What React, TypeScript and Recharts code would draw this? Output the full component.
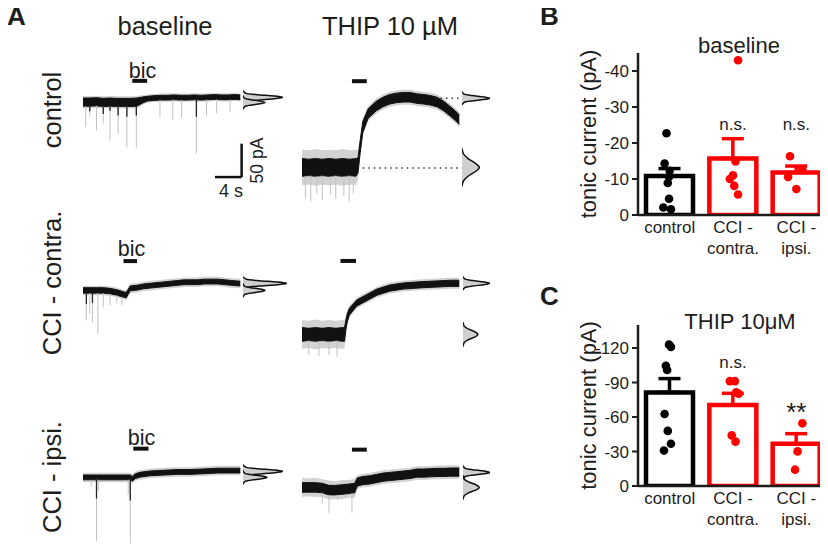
import React from 'react';
import { ComposedChart, Area, Bar, Scatter, XAxis, YAxis, ReferenceLine, ErrorBar } from 'recharts';

const FONT = '"Liberation Sans", Arial, Helvetica, sans-serif';
const INK = '#1d1d1b';
const RED = '#ff0000';

// ---------- panel A: example recordings ----------
// rows: [time (s), mean current (pA, rel. to start), dense noise half-width, faint noise half-width]
const baseControl = [
  [0, -2.5, 6, 9], [1, -2.5, 6, 9], [2, -2, 6, 9], [3, -3, 6, 9], [4, -2.5, 6, 9], [5, -3, 6, 9],
  [6, -3, 6, 9], [7, -3, 6, 9], [8, -2.5, 6, 9], [8.8, 0.5, 4.5, 7], [9.5, 2.5, 3.5, 6], [10.5, 3.5, 3.5, 6],
  [11.5, 4, 3.5, 6], [12.5, 4, 3.5, 6], [13.5, 4.5, 3.5, 6], [14.5, 4, 3.5, 6], [15.5, 4, 3.5, 6],
  [16.5, 4.5, 3.5, 6], [17.5, 4, 3.5, 6], [18.5, 4.5, 3.5, 6], [19.5, 5, 3.5, 6], [20.5, 4.5, 3.5, 6],
  [21.5, 4.5, 3.5, 6], [22.5, 5, 3.5, 6], [23.3, 4.5, 3.5, 6],
];
const thipControl = [
  [0, 0, 13, 26], [1, 0, 12, 25], [2, 0, 13, 27], [3, 0, 12, 25], [4, 0, 13, 26], [5, 0, 12, 25],
  [6, 0, 13, 27], [7, 0, 12, 25], [8, 0, 13, 26], [8.3, 3, 11, 22], [8.6, 29, 9, 16], [9, 59, 8, 13],
  [9.8, 79, 7, 11], [11, 90, 7, 11], [12, 96, 7, 11], [13, 100, 7, 11], [14, 102, 7, 11], [15, 103, 7, 11],
  [16, 103, 7, 11], [17, 101, 7, 11], [18, 100, 7, 11], [19, 98.5, 7, 11], [20, 96, 7, 11], [21, 90, 7, 11],
  [22, 82, 7, 11], [22.7, 76, 7, 11], [23.3, 70, 7, 11],
];
const baseContra = [
  [0, 0, 4, 7], [1, 0, 4, 7], [2, 0, 4, 7], [3, 0, 4, 7], [4, -1, 4, 7], [5, -3, 4, 7], [6, -6, 4, 7],
  [6.4, -7, 4, 7], [7, 3, 3.5, 7], [8, 4, 3.5, 7], [9, 6, 3.5, 7], [10, 7, 3.5, 7], [11, 8, 3.5, 7],
  [12, 9, 3.5, 7], [13, 10, 3.5, 7], [14, 11, 3.5, 7], [15, 12, 3.5, 7], [16, 12, 3.5, 7], [17, 12, 3.5, 7],
  [18, 13, 3.5, 7], [19, 13, 3.5, 7], [20, 13, 3.5, 7], [21, 12, 3.5, 7], [22, 11, 3.5, 7], [23.3, 10, 3.5, 7],
];
const thipContra = [
  [0, 0, 10, 21], [1, 0, 9, 20], [2, 0, 10, 22], [3, 0, 9, 20], [4, 0, 10, 21], [5, 0, 9, 20],
  [6, 0, 10, 21], [6.3, 0, 10, 21], [6.5, 14, 7, 13], [6.7, 24, 6, 11], [7, 33, 5, 9], [8.1, 46, 4.5, 8],
  [9.6, 54, 4.5, 8], [11.1, 62, 4.5, 8], [13, 68, 4.5, 8], [15, 71, 4.5, 8], [17.9, 73, 4.5, 8],
  [20, 74, 4.5, 8], [22, 75, 4.5, 8], [23.3, 75, 4.5, 8],
];
const baseIpsi = [
  [0, 0, 3.5, 7], [1, 0, 3.5, 7], [2, 0, 3.5, 7], [3, 0, 3.5, 7], [4, 0, 3.5, 7], [5, 0, 3.5, 7],
  [6, 0, 3.5, 7], [7, 0, 3.5, 7], [7.3, -2, 3.5, 7], [7.8, 2, 3.5, 7], [8.5, 4, 3.5, 7], [10, 6, 3.5, 7],
  [12, 7, 3.5, 7], [14, 8, 3.5, 7], [16, 8, 3.5, 7], [18, 9, 3.5, 7], [20, 10, 3.5, 7], [22, 10, 3.5, 7],
  [23.3, 10, 3.5, 7],
];
const thipIpsi = [
  [0, 0, 7, 14], [1, 0, 7, 13], [2, 0, 7, 14], [3, -1, 7, 13], [4, -4, 7, 14], [5, -4, 7, 13],
  [6, -3, 7, 14], [7, -2, 7, 13], [7.8, -1, 7, 14], [8.2, 8, 6, 10], [9, 10, 6, 10], [10, 11, 6, 10],
  [11, 13, 6, 10], [12, 15, 6, 10], [13, 16, 6, 10], [14, 17, 6, 10], [15, 18, 6, 10], [16, 19, 6, 10],
  [17, 21, 6, 10], [18, 21, 6, 10], [19, 21.5, 6, 10], [20, 22, 6, 10], [21, 22, 6, 10], [22, 22.5, 6, 10],
  [23.3, 22.5, 6, 10],
];

// spontaneous events: [time (s), peak (pA), 1 = dense part]
const baseControlEvents = [
  [0.4, -39], [1.0, -22], [2.0, -44], [3.0, -34], [4.0, -59], [5.2, -49], [6.5, -69], [7.9, -69],
  [11.4, -25], [13.3, -29], [14.6, -25], [16.8, -78], [18.3, -22], [19.8, -19], [21.8, -17],
  [1.0, -16, 1], [3.0, -20, 1], [4.0, -15, 1], [5.2, -22, 1], [6.5, -24, 1], [7.9, -22, 1], [16.8, -24, 1],
];
const thipControlEvents = [
  [0.5, -45], [1.3, -50], [2.2, -38], [3.0, -48], [4.2, -40], [5.0, -46], [6.2, -42], [7.0, -50], [7.6, -38],
];
const baseContraEvents = [
  [0.5, -44], [1.0, -34], [1.4, -47], [2.2, -63], [3.0, -25], [4.0, -22], [5.0, -19], [5.8, -22],
  [0.5, -20, 1], [1.4, -18, 1],
];
const thipContraEvents = [[1.0, -30], [2.5, -32], [4.0, -30], [5.2, -33]];
const baseIpsiEvents = [
  [1.2, -14], [2.0, -93], [2.3, -20], [6.7, -25], [7.0, -97], [2.0, -31, 1], [7.0, -34, 1],
];
const thipIpsiEvents = [[3.0, -24], [4.0, -38], [5.3, -19], [7.4, -37]];

// drug application bars: [start s, end s, level pA]
const bicControl = [7.3, 9.5, 28.7];
const thipBarControl = [7.4, 9.6, 126.5];
const bicContra = [6.0, 8.0, 43];
const thipBarContra = [5.7, 8.0, 107.8];
const bicIpsi = [7.45, 9.7, 42.2];
const thipBarIpsi = [7.4, 9.6, 55.4];

// all-points histograms: [centre pA, relative height, profile]
const histBaseControl = [[4.4, 1, 'n'], [-3, 0.55, 'n']];
const histThipControl = [[101.5, 1, 'n'], [0, 0.62, 'w']];
const histBaseContra = [[10.3, 1, 'n'], [0, 0.5, 'n']];
const histThipContra = [[75, 1, 'n'], [0, 0.55, 'm']];
const histBaseIpsi = [[8.8, 1, 'n'], [0, 0.6, 'n']];
const histThipIpsi = [[22, 1, 'n'], [0, 0.6, 'm']];

const PROFILE_OFFSETS: Record<string, number[]> = {
  n: [-10, -6, -4, -2, 0, 2, 4, 6, 10],
  m: [-18, -12, -8, -4, 0, 4, 8, 12, 18],
  w: [-28, -20, -13, -6, 0, 6, 13, 20, 28],
};
const PROFILE_COUNTS = [0, 0.08, 0.35, 0.78, 1, 0.78, 0.35, 0.08, 0];

// ---------- panels B and C: tonic current ----------
const GROUPS = ['control', 'CCI -|contra.', 'CCI -|ipsi.'];

const baseMeans = [-10.8, -15.7, -11.8];
const baseSems = [2.1, 5.5, 1.8];
const baseCells = [
  [-22.7, -14.3, -12.3, -10.6, -8.9, -4.5, -2.1, -1.6],
  [-43, -14.9, -11.0, -10.0, -8.1, -5.7],
  [-16.3, -12.7, -10.6, -7.2],
];
const baseJitter = [
  [-0.05, -0.08, 0, -0.01, -0.03, -0.01, -0.1, 0.02],
  [0.08, 0.04, 0, -0.05, 0.02, 0.08],
  [-0.1, 0.095, -0.13, 0],
];
const baseNotes = ['', 'n.s.', 'n.s.'];

const thipMeans = [-81.4, -70.4, -36.7];
const thipSems = [12, 10.2, 8.8];
const thipCells = [
  [-122.9, -121, -104.6, -100.9, -62.6, -47.9, -36.7, -30.8],
  [-91.2, -91.2, -81.4, -80.2, -44, -38.6],
  [-54.5, -30.1, -14.2],
];
const thipJitter = [
  [-0.01, 0.02, -0.06, -0.04, -0.08, -0.03, 0.02, -0.09],
  [-0.05, 0.03, 0.05, 0.09, -0.02, 0.04],
  [0.095, 0.02, -0.02],
];
const thipNotes = ['', 'n.s.', '**'];

// trace geometry: 6.75 px per s, 0.68 px per pA
const SECONDS = 24;
const TRACE_W = 162;
const PA_LO = -130;
const PA_HI = 140;
const TRACE_H = 184;
const PX_PA = TRACE_H / (PA_HI - PA_LO);

type Row = number[];

function Trace({ left, base, rows, events, drug, dotted, scaleBar }: any) {
  const data = rows.map(([t, m, b, g]: Row) => ({ t, faint: [m - g, m + g], dense: [m - b, m + b] }));
  const nearest = (t: number) =>
    rows.reduce((best: Row, r: Row) => (Math.abs(r[0] - t) < Math.abs(best[0] - t) ? r : best), rows[0]);
  return (
    <div style={{ position: 'absolute', left, top: base - PA_HI * PX_PA }}>
      <ComposedChart width={TRACE_W} height={TRACE_H} data={data} margin={{ top: 0, right: 0, bottom: 0, left: 0 }}>
        <XAxis dataKey="t" type="number" domain={[0, SECONDS]} hide allowDataOverflow />
        <YAxis type="number" domain={[PA_LO, PA_HI]} hide allowDataOverflow />
        {events.map(([t, peak, dense]: Row, i: number) => {
          const r = nearest(t);
          return (
            <ReferenceLine
              key={'ev' + i}
              segment={[{ x: t, y: r[1] - r[2] }, { x: t, y: peak }]}
              stroke={dense ? '#222' : '#c2c2c2'}
              strokeWidth={dense ? 1.3 : 1}
            />
          );
        })}
        <Area dataKey="faint" type="linear" stroke="none" fill="#d2d2d2" fillOpacity={1} isAnimationActive={false} dot={false} activeDot={false} />
        <Area dataKey="dense" type="linear" stroke="#111" strokeWidth={1} fill="#111" fillOpacity={1} isAnimationActive={false} dot={false} activeDot={false} />
        <ReferenceLine segment={[{ x: drug[0], y: drug[2] }, { x: drug[1], y: drug[2] }]} stroke="#111" strokeWidth={4} />
        {dotted &&
          dotted.map(([t0, t1, y]: Row, i: number) => (
            <ReferenceLine key={'dl' + i} segment={[{ x: t0, y }, { x: t1, y }]} stroke="#333" strokeWidth={1.5} strokeDasharray="1.5 4" />
          ))}
        {scaleBar && (
          <ReferenceLine segment={[{ x: scaleBar[0], y: scaleBar[2] }, { x: scaleBar[1], y: scaleBar[2] }]} stroke="#111" strokeWidth={2.5} />
        )}
        {scaleBar && (
          <ReferenceLine segment={[{ x: scaleBar[1], y: scaleBar[2] }, { x: scaleBar[1], y: scaleBar[3] }]} stroke="#111" strokeWidth={2.5} />
        )}
      </ComposedChart>
    </div>
  );
}

function Histo({ left, base, width, curves }: any) {
  return (
    <div style={{ position: 'absolute', left, top: base - PA_HI * PX_PA }}>
      <ComposedChart layout="vertical" width={width} height={TRACE_H} margin={{ top: 0, right: 0, bottom: 0, left: 0 }}>
        <XAxis type="number" domain={[0, 1]} hide allowDataOverflow />
        <YAxis type="number" dataKey="pa" domain={[PA_LO, PA_HI]} hide allowDataOverflow reversed />
        {curves.map(([c, h, kind]: any, i: number) => {
          const d = PROFILE_OFFSETS[kind].map((o, j) => ({ pa: c + o, n: PROFILE_COUNTS[j] * h }));
          return (
            <Area key={i} data={d} dataKey="n" type="monotone" stroke="#111" strokeWidth={1.5} fill="#cfcfcf" fillOpacity={1} isAnimationActive={false} dot={false} activeDot={false} />
          );
        })}
      </ComposedChart>
    </div>
  );
}

const CatTick = ({ x, y, payload }: any) => {
  const lines = String(payload.value).split('|');
  return (
    <text x={x} y={y} textAnchor="middle" fontSize={17} fill={INK}>
      {lines.map((l, i) => (
        <tspan key={i} x={x} dy={i === 0 ? 18 : 21}>
          {l}
        </tspan>
      ))}
    </text>
  );
};

const yTitle = (props: any) => {
  const vb = props.viewBox;
  const cx = vb.x + 28;
  const cy = vb.y + vb.height / 2;
  return (
    <text x={cx} y={cy} transform={`rotate(-90 ${cx} ${cy})`} textAnchor="middle" dominantBaseline="central" fontSize={22} fill={INK}>
      tonic current (pA)
    </text>
  );
};

function TonicPanel({ top, height, marginTop, marginBottom, domainMax, ticks, means, sems, cells, jitter, notes, noteLevels }: any) {
  const bars = GROUPS.map((name, i) => ({
    name,
    ctl: i === 0 ? means[i] : undefined,
    cci: i === 0 ? undefined : means[i],
    ctlErr: i === 0 ? [sems[i], 0] : undefined,
    cciErr: i === 0 ? undefined : [sems[i], 0],
  }));
  const dots = cells.flatMap((vals: number[], g: number) =>
    vals.map((v, k) => ({ x: g + 0.5 + jitter[g][k], y: v, g }))
  );
  const marks = notes
    .map((s: string, g: number) => ({ x: g + 0.5, y: noteLevels[g], s }))
    .filter((m: any) => m.s);
  return (
    <div style={{ position: 'absolute', left: 560, top }}>
      <ComposedChart width={268} height={height} data={bars} margin={{ top: marginTop, right: 0, bottom: marginBottom, left: 0 }}>
        <XAxis
          xAxisId="cat"
          dataKey="name"
          interval={0}
          tickLine={false}
          tickSize={0}
          tickMargin={0}
          tick={<CatTick />}
          axisLine={{ stroke: INK, strokeWidth: 2.5 }}
        />
        <XAxis xAxisId="jit" dataKey="x" type="number" domain={[0, 3]} hide allowDataOverflow />
        <YAxis
          type="number"
          domain={[-domainMax, 0]}
          reversed
          allowDataOverflow
          ticks={ticks}
          width={78}
          tickSize={6}
          tickMargin={3}
          tick={{ fontSize: 17, fill: INK }}
          axisLine={{ stroke: INK, strokeWidth: 2.5 }}
          tickLine={{ stroke: INK, strokeWidth: 2 }}
          label={yTitle}
        />
        <Bar xAxisId="cat" dataKey="ctl" stackId="s" barSize={47} fill="#fff" stroke="#000" strokeWidth={4.5} isAnimationActive={false}>
          <ErrorBar dataKey="ctlErr" width={11} stroke="#000" strokeWidth={3.5} direction="y" />
        </Bar>
        <Bar xAxisId="cat" dataKey="cci" stackId="s" barSize={47} fill="#fff" stroke={RED} strokeWidth={4.5} isAnimationActive={false}>
          <ErrorBar dataKey="cciErr" width={11} stroke={RED} strokeWidth={3.5} direction="y" />
        </Bar>
        <Scatter
          xAxisId="jit"
          data={dots}
          dataKey="y"
          isAnimationActive={false}
          shape={(p: any) => <circle cx={p.cx} cy={p.cy} r={4.3} fill={p.payload.g === 0 ? '#000' : RED} />}
        />
        <Scatter
          xAxisId="jit"
          data={marks}
          dataKey="y"
          isAnimationActive={false}
          shape={(p: any) => (
            <text x={p.cx} y={p.cy} textAnchor="middle" fontSize={p.payload.s === '**' ? 26 : 17} fill={INK}>
              {p.payload.s}
            </text>
          )}
        />
      </ComposedChart>
    </div>
  );
}

const panelLetter = (text: string, left: number, top: number) => (
  <div style={{ position: 'absolute', left, top, fontSize: 26, fontWeight: 'bold', lineHeight: '26px', color: INK, zIndex: 5 }}>{text}</div>
);

export default function App() {
  const rowLabel = (text: string, x: number, y: number) => (
    <text x={x} y={y} transform={`rotate(-90 ${x} ${y})`} textAnchor="middle" fontSize={25.5} fill={INK}>
      {text}
    </text>
  );
  return (
    <div style={{ position: 'relative', width: 828, height: 559, marginTop: -8, marginLeft: -8, background: '#fff', fontFamily: FONT }}>
      <Trace left={83} base={100} rows={baseControl} events={baseControlEvents} drug={bicControl} scaleBar={[19.55, 23.5, -112.5, -63.5]} />
      <Trace left={302} base={167} rows={thipControl} events={thipControlEvents} drug={thipBarControl} dotted={[[19.7, 23.7, 101.5], [9.0, 23.7, -1]]} />
      <Trace left={83} base={290} rows={baseContra} events={baseContraEvents} drug={bicContra} />
      <Trace left={302} base={334} rows={thipContra} events={thipContraEvents} drug={thipBarContra} />
      <Trace left={83} base={477} rows={baseIpsi} events={baseIpsiEvents} drug={bicIpsi} />
      <Trace left={302} base={487} rows={thipIpsi} events={thipIpsiEvents} drug={thipBarIpsi} />

      <Histo left={243} base={100} width={40} curves={histBaseControl} />
      <Histo left={462} base={167} width={28} curves={histThipControl} />
      <Histo left={243} base={290} width={44} curves={histBaseContra} />
      <Histo left={463} base={334} width={27} curves={histThipContra} />
      <Histo left={243} base={477} width={40} curves={histBaseIpsi} />
      <Histo left={463} base={487} width={27} curves={histThipIpsi} />

      <TonicPanel
        top={30}
        height={262}
        marginTop={23}
        marginBottom={47}
        domainMax={45}
        ticks={[0, -10, -20, -30, -40]}
        means={baseMeans}
        sems={baseSems}
        cells={baseCells}
        jitter={baseJitter}
        notes={baseNotes}
        noteLevels={[0, -23.6, -23.6]}
      />
      <TonicPanel
        top={300}
        height={259}
        marginTop={25}
        marginBottom={43}
        domainMax={140}
        ticks={[0, -30, -60, -90, -120]}
        means={thipMeans}
        sems={thipSems}
        cells={thipCells}
        jitter={thipJitter}
        notes={thipNotes}
        noteLevels={[0, -102.6, -56.5]}
      />

      <svg width={828} height={559} style={{ position: 'absolute', left: 0, top: 0, pointerEvents: 'none' }}>
        <g fill={INK} fontFamily={FONT}>
          <text x={165} y={35} fontSize={25.5} textAnchor="middle">baseline</text>
          <text x={390} y={34.5} fontSize={25.5} textAnchor="middle">THIP 10 µM</text>
          {rowLabel('control', 61, 110)}
          {rowLabel('CCI - contra.', 61, 283)}
          {rowLabel('CCI - ipsi.', 60.5, 477)}
          <text x={142.5} y={77.5} fontSize={21.5} textAnchor="middle">bic</text>
          <text x={131.5} y={256} fontSize={21.5} textAnchor="middle">bic</text>
          <text x={141.5} y={444.5} fontSize={21.5} textAnchor="middle">bic</text>
          <text x={231} y={197} fontSize={18} textAnchor="middle">4 s</text>
          <text x={263} y={160.5} fontSize={17.5} textAnchor="middle" transform="rotate(-90 263 160.5)">50 pA</text>
          <text x={739} y={52.7} fontSize={22} textAnchor="middle">baseline</text>
          <text x={740} y={329} fontSize={22} textAnchor="middle">THIP 10μM</text>
        </g>
      </svg>
      {panelLetter('A', 7, 3)}
      {panelLetter('B', 540, 3)}
      {panelLetter('C', 540, 283)}
    </div>
  );
}
